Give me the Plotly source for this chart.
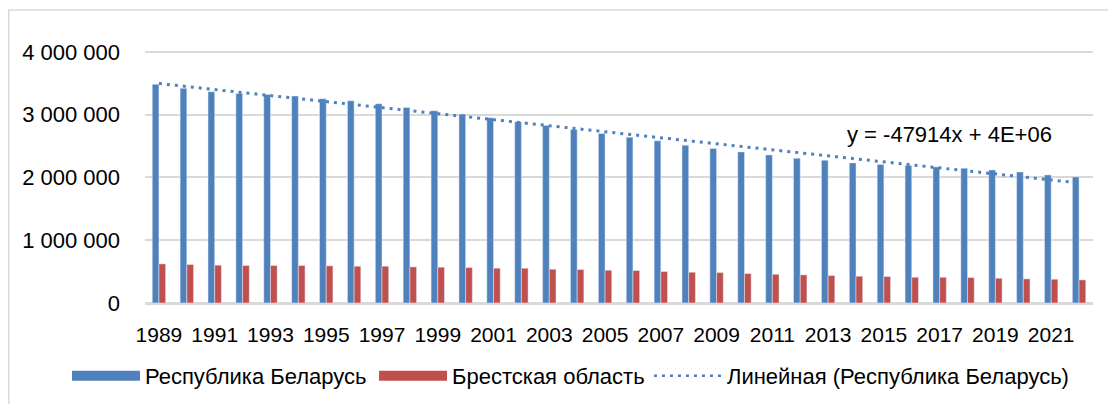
import numpy as np
import plotly.graph_objects as go

years = [str(y) for y in range(1989, 2023)]
belarus = [3483000, 3419000, 3366000, 3339000, 3323000, 3297000, 3254000, 3222000,
           3174000, 3115000, 3062000, 3009000, 2950000, 2887000, 2828000, 2764000,
           2700000, 2642000, 2583000, 2514000, 2460000, 2407000, 2359000, 2306000,
           2274000, 2232000, 2205000, 2189000, 2168000, 2146000, 2120000, 2088000,
           2040000, 2008000]
brest = [623000, 613000, 602000, 597000, 597000, 597000, 592000, 586000,
         586000, 575000, 570000, 565000, 554000, 554000, 538000, 533000,
         522000, 517000, 501000, 490000, 485000, 469000, 458000, 448000,
         437000, 426000, 421000, 410000, 410000, 405000, 394000, 384000,
         378000, 368000]
tick_years = years[::2]
y_ticks = [0, 1000000, 2000000, 3000000, 4000000]
series_names = ["Республика Беларусь", "Брестская область", "Линейная (Республика Беларусь)"]
trend_label = "y = -47914x + 4E+06"

BLUE = "#4F81BD"
RED = "#C0504D"
FONT = "Liberation Sans, Arial, sans-serif"
FS = 22

idx = np.arange(1, len(years) + 1)
slope, intercept = np.polyfit(idx, np.array(belarus, dtype=float), 1)
trend = slope * idx + intercept

fig = go.Figure()
fig.add_trace(go.Bar(x=years, y=belarus, name=series_names[0], marker_color=BLUE,
                     showlegend=False))
fig.add_trace(go.Bar(x=years, y=brest, name=series_names[1], marker_color=RED,
                     showlegend=False))
fig.add_trace(go.Scatter(x=years, y=trend, mode="lines", name=series_names[2],
                         line=dict(color=BLUE, width=3, dash="3px,5px"), showlegend=False))
# legend entries (one legend per entry so each can be placed like the original)
fig.add_trace(go.Scatter(x=[None], y=[None], mode="lines", name=series_names[0],
                         line=dict(color=BLUE, width=13), legend="legend"))
fig.add_trace(go.Scatter(x=[None], y=[None], mode="lines", name=series_names[1],
                         line=dict(color=RED, width=13), legend="legend2"))
fig.add_trace(go.Scatter(x=[None], y=[None], mode="lines", name=series_names[2],
                         line=dict(color=BLUE, width=2.5, dash="3px,5px"), legend="legend3"))

fig.add_annotation(x=28.35, y=2680000, xref="x", yref="y", text=trend_label,
                   showarrow=False, font=dict(size=FS, color="#000000", family=FONT))

fig.add_shape(type="rect", xref="paper", yref="paper", x0=-0.1437, x1=1.05,
              y0=-0.5, y1=1.158, line=dict(color="#d9d9d9", width=1.5),
              fillcolor="rgba(0,0,0,0)", layer="below")

leg_common = dict(orientation="h", y=-0.288, yanchor="middle", itemwidth=68,
                  font=dict(size=FS, family=FONT, color="#000000"),
                  bgcolor="rgba(0,0,0,0)")

fig.update_layout(
    width=1100, height=396,
    margin=dict(l=137, r=15, t=42, b=101, autoexpand=False),
    paper_bgcolor="white", plot_bgcolor="white",
    barmode="group", bargap=0.52, bargroupgap=0,
    separators=", ",
    font=dict(family=FONT, size=FS, color="#000000"),
    legend=dict(x=-0.0823, xanchor="left", **leg_common),
    legend2=dict(x=0.2416, xanchor="left", **leg_common),
    legend3=dict(x=0.5316, xanchor="left", **leg_common),
    xaxis=dict(type="category", tickvals=tick_years, ticktext=tick_years,
               tickangle=0, showgrid=False, showline=True, linecolor="#d9d9d9",
               linewidth=1.5, ticks="", tickfont=dict(size=21), ticklabelstandoff=12),
    yaxis=dict(range=[0, 4030000], tickvals=y_ticks, tickformat=",d",
               showgrid=True, gridcolor="#d9d9d9", gridwidth=1.5,
               zeroline=True, zerolinecolor="#d9d9d9", zerolinewidth=1.5,
               showline=False, ticks="", tickfont=dict(size=FS), ticklabelstandoff=24),
)

fig.write_html("out.html")
